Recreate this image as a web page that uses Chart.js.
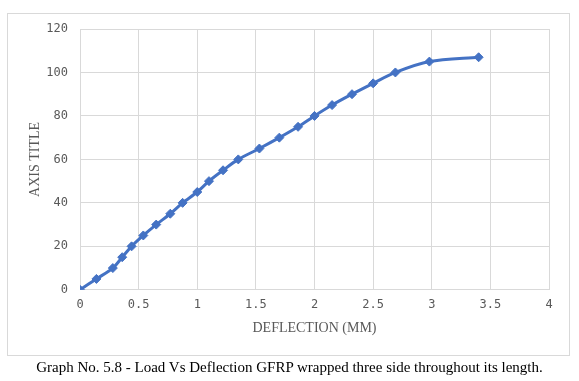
<!DOCTYPE html>
<html>
<head>
<meta charset="utf-8">
<script src="https://cdn.jsdelivr.net/npm/chart.js@4/dist/chart.umd.min.js"></script>
<style>
  html, body { margin: 0; padding: 0; background: #fff; }
  #wrap { position: relative; width: 579px; height: 381px; }
  #frame { position: absolute; left: 7px; top: 13px; width: 563px; height: 343px; box-sizing: border-box; border: 1px solid #d9d9d9; }
  #c { position: absolute; left: 0; top: 0; }
  #caption { position: absolute; left: 0; width: 579px; top: 359px; text-align: center;
    font-family: "Liberation Serif", "Times New Roman", serif; font-size: 15px; color: #000; white-space: nowrap; }
</style>
</head>
<body>
<div id="wrap">
  <div id="frame"></div>
  <canvas id="c" width="579" height="381"></canvas>
  <div id="caption">Graph No. 5.8 - Load Vs Deflection GFRP wrapped three side throughout its length.</div>
</div>
<script>
const deflection = [0, 0.14, 0.28, 0.36, 0.44, 0.54, 0.65, 0.77, 0.875, 1.0, 1.1, 1.22, 1.35, 1.53, 1.70, 1.86, 2.0, 2.15, 2.32, 2.50, 2.69, 2.98, 3.40];
const load = [0, 5, 10, 15, 20, 25, 30, 35, 40, 45, 50, 55, 60, 65, 70, 75, 80, 85, 90, 95, 100, 105, 107];
const xTitle = "DEFLECTION (MM)";
const yTitle = "AXIS TITLE";

const points = deflection.map((x, i) => ({ x: x, y: load[i] }));
const blue = "#4472C4";
const tickFont = { family: "'DejaVu Sans Mono', monospace", size: 12 };
const titleFont = { family: "'Liberation Serif', 'Times New Roman', serif", size: 14 };

new Chart(document.getElementById("c"), {
  type: "scatter",
  data: {
    datasets: [{
      data: points,
      showLine: true,
      borderColor: blue,
      backgroundColor: blue,
      borderWidth: 3,
      tension: 0.3,
      pointStyle: "rectRot",
      pointRadius: 4.5,
      pointBorderWidth: 1,
      pointBorderColor: blue,
      pointBackgroundColor: blue
    }]
  },
  options: {
    responsive: false,
    animation: false,
    layout: { padding: { left: 19, right: 30, top: 29, bottom: 44 } },
    plugins: { legend: { display: false }, tooltip: { enabled: false } },
    scales: {
      x: {
        type: "linear",
        min: 0, max: 4,
        ticks: { stepSize: 0.5, color: "#595959", font: tickFont, padding: 8, callback: (v) => String(v) },
        grid: { color: "#d9d9d9", drawTicks: false, lineWidth: 1 },
        border: { display: false },
        title: { display: true, text: xTitle, color: "#595959", font: titleFont, padding: { top: 0, bottom: 0 } }
      },
      y: {
        min: 0, max: 120,
        ticks: { stepSize: 20, color: "#595959", font: tickFont, padding: 12, callback: (v) => String(v) },
        grid: { color: "#d9d9d9", drawTicks: false, lineWidth: 1 },
        border: { display: false },
        title: { display: true, text: yTitle, color: "#595959", font: titleFont, padding: { top: 8, bottom: 0 } },
        afterFit: (s) => { s.width = 61; }
      }
    }
  }
});
</script>
</body>
</html>
